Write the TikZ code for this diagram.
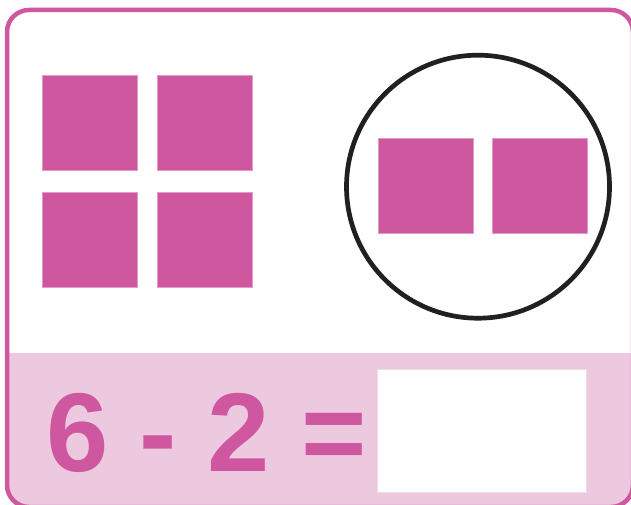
\documentclass[tikz,border=0pt]{standalone}
\usepackage{fontspec}
\setmainfont{Liberation Sans}
\definecolor{berry}{HTML}{CF57A0}
\definecolor{blush}{HTML}{EDC9E0}
\definecolor{ink}{HTML}{231F20}
\tikzset{
  tile/.style={fill=berry, draw=berry!60, line width=0.6pt, minimum size=95pt, inner sep=0pt},
  answer/.style={fill=white, draw=blush!70, line width=0.6pt, inner sep=0pt}
}
\begin{document}
\begin{tikzpicture}[x=1pt, y=-1pt]
\useasboundingbox (0,0) rectangle (631,505);
% Card background and answer strip
\begin{scope}
  \clip[rounded corners=22pt] (7,10) rectangle (633,507);
  \fill[white] (7,10) rectangle (633,507);
  \fill[blush] (0,353) rectangle (640,510);
\end{scope}
\draw[berry, line width=4.5pt, rounded corners=22pt] (7,10) rectangle (633,507);

% Four tiles
\node[tile] (t1) at (90,123.2) {};
\node[tile] (t2) at (204.7,123.2) {};
\node[tile] (t3) at (90,239.8) {};
\node[tile] (t4) at (204.7,239.8) {};

% Two tiles taken away
\node[draw=ink, line width=4.7pt, circle, minimum size=263pt, inner sep=0pt] (ring) at (478,186.7) {};
\node[tile] (r1) at (425.7,185.4) {};
\node[tile] (r2) at (540.2,185.4) {};

% Sum
\node[anchor=base west, inner sep=0pt, text=berry, font=\fontsize{112}{120}\selectfont\bfseries] (sum) at (46,471) {6 - 2 =};
\node[answer, minimum width=209pt, minimum height=123pt] (box) at (481.5,430.5) {};
\end{tikzpicture}
\end{document}
